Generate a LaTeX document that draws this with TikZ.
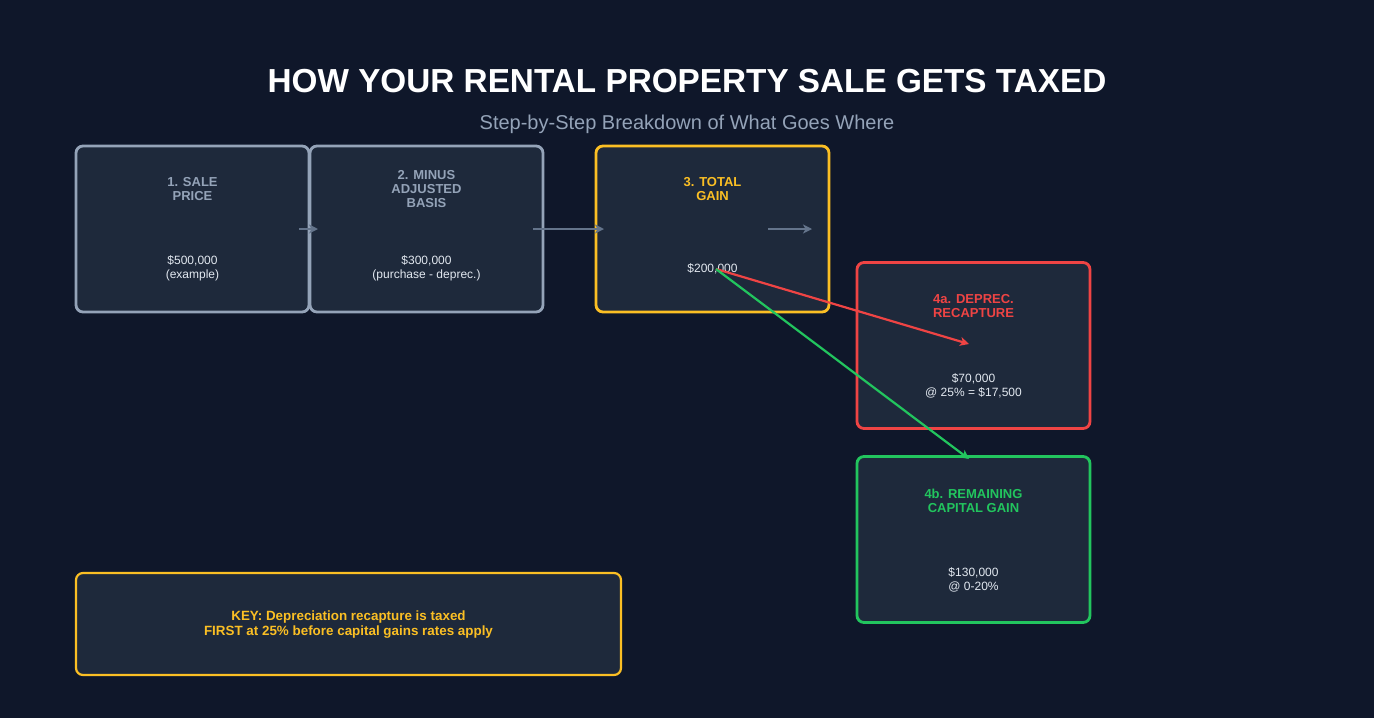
\documentclass[tikz,border=0pt]{standalone}
\usepackage{fontspec}
\setmainfont{Liberation Sans}
\usetikzlibrary{arrows.meta}
\definecolor{bg}{HTML}{0F172A}
\definecolor{boxfill}{HTML}{1E293B}
\definecolor{slate}{HTML}{94A3B8}
\definecolor{valtxt}{HTML}{E2E8F0}
\definecolor{arrgray}{HTML}{64748B}
\definecolor{gold}{HTML}{FBBF24}
\definecolor{redc}{HTML}{EF4444}
\definecolor{greenc}{HTML}{22C55E}
\tikzset{
  card/.style={draw=#1, fill=boxfill, line width=2.8pt, rounded corners=7pt, minimum width=233pt, minimum height=166pt, inner sep=0pt},
  ttl/.style={text=#1, font=\bfseries\fontsize{13}{14}\selectfont, align=center, inner sep=0pt},
  val/.style={text=valtxt, font=\fontsize{12}{14}\selectfont, align=center, inner sep=0pt},
  flow/.style={draw=#1, line width=2.2pt, -{Stealth[length=9pt,width=9pt,inset=2.5pt]}},
}
\begin{document}
\begin{tikzpicture}[x=1pt,y=-1pt]
\fill[bg] (0,0) rectangle (1374,718);
\useasboundingbox (0,0) rectangle (1374,718);

\node[text=white, font=\bfseries\fontsize{33.3}{36}\selectfont, inner sep=0pt] (title) at (687,81) {HOW YOUR RENTAL PROPERTY SALE GETS TAXED};
\node[text=slate, font=\fontsize{20}{24}\selectfont, inner sep=0pt] (subtitle) at (687,124) {Step-by-Step Breakdown of What Goes Where};

\node[card=slate] (b1) at (192.5,229) {};
\node[card=slate] (b2) at (426.5,229) {};
\node[card=gold] (b3) at (712.5,229) {};
\node[card=redc] (b4a) at (973.5,345.5) {};
\node[card=greenc] (b4b) at (973.5,539.5) {};
\node[draw=gold, fill=boxfill, line width=2.2pt, rounded corners=7pt, minimum width=545pt, minimum height=102pt, inner sep=0pt] (key) at (348.5,624) {};

\node[ttl=slate] (t1) at (192.5,189.5) {1. SALE\\PRICE};
\node[val] (v1) at (192.5,268.5) {\$500,000\\ (example)};
\node[ttl=slate] (t2) at (426.5,189.5) {2. MINUS\\ADJUSTED\\BASIS};
\node[val] (v2) at (426.5,268.5) {\$300,000\\ (purchase - deprec.)};
\node[ttl=gold] (t3) at (712.5,189.5) {3. TOTAL\\GAIN};
\node[val] (v3) at (712.5,268.5) {\$200,000};
\node[ttl=redc] (t4a) at (973.5,306.5) {4a. DEPREC.\\RECAPTURE};
\node[val] (v4a) at (973.5,385.5) {\$70,000\\ @ 25\% = \$17,500};
\node[ttl=greenc] (t4b) at (973.5,500.5) {4b. REMAINING\\CAPITAL GAIN};
\node[val] (v4b) at (973.5,579.5) {\$130,000\\ @ 0-20\%};
\node[ttl=gold, font=\bfseries\fontsize{13.4}{15}\selectfont] (tkey) at (348.5,625) {KEY: Depreciation recapture is taxed\\FIRST at 25\% before capital gains rates apply};

\coordinate (a1s) at (299,229);
\coordinate (a1e) at (318,229);
\coordinate (a2s) at (533,229);
\coordinate (a2e) at (604,229);
\coordinate (a3s) at (768,229);
\coordinate (a3e) at (812,229);
\coordinate (src) at (716,269);
\coordinate (reda) at (969,344);
\coordinate (greena) at (969,459);

\draw[flow=arrgray] (a1s) -- (a1e);
\draw[flow=arrgray] (a2s) -- (a2e);
\draw[flow=arrgray] (a3s) -- (a3e);
\draw[flow=redc] (src) -- (reda);
\draw[flow=greenc] (src) -- (greena);
\end{tikzpicture}
\end{document}
